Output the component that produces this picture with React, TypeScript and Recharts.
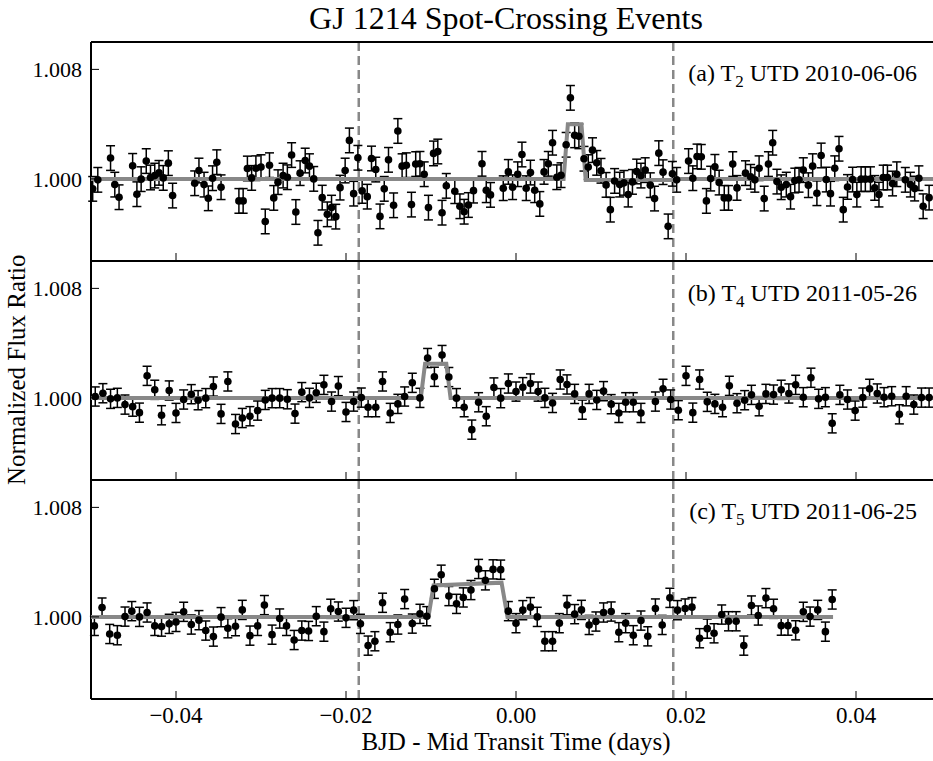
import React from "react";
import { ComposedChart, Scatter, ErrorBar, XAxis, YAxis, ReferenceLine } from "recharts";

// (a) T2 UTD 2010-06-06
const timeA = [
  -0.0498, -0.0492, -0.0477, -0.0472, -0.0467, -0.0451, -0.0446, -0.0441, -0.0435, -0.043,
  -0.0425, -0.042, -0.0415, -0.0409, -0.0404, -0.0378, -0.0373, -0.0367, -0.0362, -0.0357,
  -0.0352, -0.0347, -0.0326, -0.0321, -0.0316, -0.0311, -0.0306, -0.03, -0.0295, -0.029,
  -0.0285, -0.028, -0.0274, -0.0269, -0.0264, -0.0259, -0.0254, -0.0248, -0.0243, -0.0238,
  -0.0233, -0.0228, -0.0222, -0.0217, -0.0212, -0.0207, -0.0201, -0.0196, -0.0191, -0.0186,
  -0.0181, -0.0175, -0.017, -0.0165, -0.016, -0.0155, -0.015, -0.0144, -0.0139, -0.0134,
  -0.0129, -0.0123, -0.0118, -0.0113, -0.0108, -0.0103, -0.0097, -0.0092, -0.0087, -0.0082,
  -0.0072, -0.0066, -0.0061, -0.0056, -0.005, -0.004, -0.0035, -0.003,
  -0.0015, -0.0009, -0.0004, 0.0002, 0.0007, 0.0012, 0.0017, 0.0022, 0.0028, 0.0033,
  0.0038, 0.0043, 0.0048, 0.0053, 0.0059, 0.0064, 0.0069, 0.0074, 0.008, 0.0085,
  0.009, 0.0095, 0.01, 0.0106, 0.0111, 0.0116, 0.0122, 0.0127, 0.0132, 0.0137,
  0.0142, 0.0147, 0.0152, 0.0158, 0.0163, 0.0168, 0.0173, 0.0179, 0.0184, 0.0189,
  0.0203, 0.0208, 0.0213, 0.0218, 0.0224, 0.0229, 0.0234, 0.0239, 0.0245, 0.025,
  0.0255, 0.026, 0.027, 0.0276, 0.0281, 0.0286, 0.0292, 0.0297, 0.0302, 0.0307,
  0.0312, 0.0318, 0.0323, 0.0328, 0.0333, 0.0338, 0.0344, 0.0349, 0.0354, 0.0359,
  0.0365, 0.037, 0.0375, 0.038, 0.0385, 0.039, 0.0396, 0.0401, 0.0406, 0.0411,
  0.0417, 0.0422, 0.0427, 0.0432, 0.0437, 0.0443, 0.0448, 0.0458, 0.0464, 0.0469,
  0.0474, 0.0479, 0.0486,
];
const fluxA = [
  0.99927, 0.99993, 1.00152, 0.99958, 0.99866, 1.00095, 0.99888, 0.99998, 1.0013, 1.0001,
  1.00024, 1.00044, 1.00007, 1.00115, 0.99878, 0.99968, 1.00061, 0.99958, 0.99858, 1.00005,
  1.00122, 0.99939, 0.99839, 0.99839, 1.00076, 1.00007, 1.00078, 1.00086, 0.99689, 1.001,
  0.99861, 0.99976, 1.00024, 1.00012, 1.00174, 0.99758, 1.00042, 1.00134, 1.00093, 1.0,
  0.99606, 0.99863, 0.99741, 0.9979, 0.99724, 0.99936, 1.00061, 1.00281, 0.99892, 1.00154,
  0.99912, 0.9987, 1.00149, 1.00068, 0.99726, 0.99927, 1.00139, 0.99807, 1.0035, 1.00093,
  1.001, 0.99812, 1.00108, 1.0011, 1.00034, 0.9979, 1.00186, 1.002, 0.99753, 0.99949,
  0.9991, 0.998, 0.9976, 0.99809, 0.99914, 1.0011, 0.99917, 0.99883,
  0.99932, 1.00051, 0.99939, 1.00034, 1.00178, 0.99932, 1.00046, 0.99917, 0.99817, 1.00051,
  1.0011, 1.00264, 1.00012, 1.00027, 1.00249, 1.00592, 1.00318, 1.00311, 1.00147, 1.00086,
  1.0021, 1.00117, 1.00059, 0.99956, 0.99775, 0.99985, 0.99958, 0.99971, 0.99885, 0.99978,
  1.00054, 1.00024, 1.00064, 0.99954, 0.99856, 1.00188, 1.00049, 0.99653, 1.00037, 0.99993,
  1.0013, 1.00005, 1.00164, 1.00161, 0.99839, 1.00002, 1.00088, 0.99973, 0.99861, 0.99861,
  1.00108, 0.99934, 1.00042, 1.00015, 0.99993, 1.00078, 0.99856, 1.00108, 1.00264, 0.9998,
  0.99939, 0.99958, 0.9987, 0.99988, 0.99993, 1.00064, 0.99954, 1.00093, 0.99895, 1.00171,
  0.99995, 0.99892, 1.00078, 1.0022, 0.99775, 0.99941, 0.99995, 0.99885, 0.99998, 0.99998,
  0.99998, 0.99934, 0.99885, 1.0001, 1.0001, 0.99966, 1.00034, 0.99993, 0.99958, 0.99929,
  1.00005, 0.998, 0.99863,
];
const errA = 0.0009;
const modelTimeA = [-0.05, 0.0056, 0.0061, 0.0077, 0.0082, 0.0185, 0.019, 0.05];
const modelFluxA = [1.0, 1.0, 1.004, 1.004, 0.99992, 0.99992, 1.0, 1.0];

// (b) T4 UTD 2011-05-26
const timeB = [
  -0.0495, -0.0486, -0.0477, -0.0469, -0.046, -0.0451, -0.0443, -0.0434, -0.0425, -0.0417,
  -0.0408, -0.04, -0.0391, -0.0382, -0.0374, -0.0365, -0.0356, -0.0347, -0.0339, -0.033,
  -0.0322, -0.0313, -0.0304, -0.0295, -0.0287, -0.0278, -0.0269, -0.026, -0.0252, -0.0243,
  -0.0235, -0.0226, -0.0217, -0.0209, -0.02, -0.0191, -0.0182, -0.0174, -0.0165, -0.0157,
  -0.0148, -0.0139, -0.0131, -0.0122, -0.0113, -0.0104, -0.0096, -0.0087, -0.0079, -0.007,
  -0.0061, -0.0052, -0.0044, -0.0035, -0.0026,
  -0.0018, -0.0009, 0.0, 0.0008, 0.0017, 0.0026, 0.0034, 0.0043, 0.0052, 0.006,
  0.0069, 0.0078, 0.0086, 0.0095, 0.0103, 0.0112, 0.0121, 0.0129, 0.0138, 0.0147,
  0.0164, 0.0173, 0.0182, 0.0191, 0.02, 0.0208, 0.0216, 0.0225, 0.0234, 0.0243,
  0.0251, 0.026, 0.0269, 0.0277, 0.0286, 0.0294, 0.0303, 0.0312, 0.0321, 0.0329,
  0.0338, 0.0347, 0.0356, 0.0364, 0.0372, 0.0381, 0.039, 0.0399, 0.0408, 0.0416,
  0.0425, 0.0433, 0.0442, 0.0451, 0.0459, 0.0468, 0.0477, 0.0486,
];
const fluxB = [
  1.0001, 1.00034, 0.99993, 1.0, 0.99951, 0.99936, 0.99892, 1.00161, 1.00059, 0.99873,
  1.00054, 0.9989, 0.99988, 1.00027, 0.99983, 0.99998, 1.00083, 0.99883, 1.0012, 0.99809,
  0.99853, 0.99866, 0.99907, 0.99985, 0.99998, 0.99998, 0.9999, 0.99885, 1.00042, 1.0,
  1.00037, 1.00095, 0.99973, 1.00086, 0.99897, 0.99973, 1.00002, 0.99932, 0.99932, 1.0012,
  0.9989, 0.99956, 1.0001, 1.0011, 1.0, 1.00291, 1.00154, 1.00313, 1.00152, 0.99998,
  0.99932, 0.99768, 0.99968, 0.99866, 1.00076,
  0.99998, 1.00105, 1.00046, 1.00078, 1.00105, 1.00046, 1.0, 0.99963, 1.00134, 1.00098,
  1.00029, 0.99914, 1.00029, 0.99985, 1.00049, 0.99954, 0.9989, 0.99968, 0.99968, 0.9989,
  0.99973, 1.00066, 0.99988, 0.9991, 1.00161, 0.99892, 1.00134, 0.99971, 0.99956, 0.99932,
  1.00088, 0.99961, 0.99983, 1.00022, 0.99939, 1.00029, 1.00024, 1.00059, 1.00032, 1.00095,
  1.00005, 1.00147, 0.99993, 1.00005, 0.99814, 1.00022, 0.99988, 0.99907, 1.00002, 1.00066,
  1.00032, 1.00005, 1.00012, 0.9988, 1.00012, 0.99951, 1.00002, 1.00002,
];
const errB = 0.0007;
const modelTimeB = [-0.05, -0.0112, -0.0107, -0.0082, -0.0077, 0.05];
const modelFluxB = [1.0, 1.0, 1.0025, 1.0025, 1.0, 1.0];

// (c) T5 UTD 2011-06-25
const timeC = [
  -0.0496, -0.0487, -0.0478, -0.0469, -0.046, -0.0452, -0.0443, -0.0434, -0.0425, -0.0417,
  -0.0408, -0.04, -0.0391, -0.0382, -0.0373, -0.0365, -0.0356, -0.0347, -0.0339, -0.033,
  -0.0322, -0.0313, -0.0304, -0.0296, -0.0287, -0.0278, -0.027, -0.0261, -0.0252, -0.0244,
  -0.0235, -0.0226, -0.0218, -0.0209, -0.02, -0.0191, -0.0183, -0.0174, -0.0166, -0.0157,
  -0.0148, -0.0139, -0.0131, -0.0122, -0.0113, -0.0105, -0.0096, -0.0088, -0.0079, -0.007,
  -0.0062, -0.0053, -0.0044, -0.0036, -0.0027,
  -0.0018, -0.0009, 0.0, 0.0008, 0.0017, 0.0025, 0.0034, 0.0043, 0.0051, 0.006,
  0.0069, 0.0077, 0.0086, 0.0094, 0.0103, 0.0112, 0.0121, 0.0129, 0.0138, 0.0147,
  0.0155, 0.0164, 0.0172, 0.0181, 0.019, 0.0199, 0.0207, 0.0216, 0.0225, 0.0233,
  0.0242, 0.025, 0.0259, 0.0268, 0.0277, 0.0285, 0.0294, 0.0303, 0.0312, 0.032,
  0.0329, 0.0338, 0.0346, 0.0355, 0.0364, 0.0372,
];
const fluxC = [
  0.99934, 1.00068, 0.99875, 0.99866, 1.00002, 1.00042, 1.0, 1.00032, 0.99934, 0.99929,
  0.99949, 0.99963, 1.00037, 0.99944, 0.99976, 0.999, 0.99856, 0.99998, 0.99917, 0.99932,
  1.00051, 0.99863, 0.99934, 1.00086, 0.9987, 0.99988, 0.99934, 0.99831, 0.999, 0.99897,
  1.00005, 0.99892, 1.00059, 1.00039, 0.99993, 1.00049, 0.99949, 0.9979, 0.99822, 1.00103,
  0.99888, 0.99944, 1.0013, 0.99951, 1.00022, 1.00005, 1.00205, 1.00308, 1.00152, 1.00095,
  1.00142, 1.00196, 1.0035, 1.00267, 1.00347,
  1.00345, 1.00042, 0.99954, 1.00049, 1.00071, 1.0, 0.99822, 0.99822, 0.99954, 1.00086,
  1.0002, 1.00051, 0.99941, 0.99966, 1.00032, 1.00039, 0.99888, 0.99954, 0.99866, 0.99973,
  0.99858, 1.00061, 0.99941, 1.00139, 1.00049, 1.00061, 1.00071, 0.99844, 0.99914, 0.9988,
  1.00017, 0.99968, 0.99968, 0.9979, 1.00083, 1.0001, 1.00137, 1.00059, 0.99936, 0.99936,
  0.99902, 1.00037, 1.00002, 1.00051, 0.99892, 1.00127,
];
const errC = 0.0007;
const modelTimeC = [-0.05, -0.0103, -0.0097, -0.0017, -0.001, 0.0373];
const modelFluxC = [1.0, 1.0, 1.0023, 1.0025, 1.0, 1.0];

const xTicks = [-0.04, -0.02, 0.0, 0.02, 0.04];
const yTicks = [1.0, 1.008];
const transitEdges = [-0.0185, 0.0185];

const FONT = "'Liberation Serif', 'DejaVu Serif', serif";
const GREY = "#888888";

const toPoints = (t: number[], f: number[], err: number) =>
  t.map((x, i) => ({ t: x, f: f[i], err }));
const toLine = (t: number[], f: number[]) => t.map((x, i) => ({ t: x, f: f[i] }));

const fmtX = (v: number) =>
  v < 0 ? "\u2212" + Math.abs(v).toFixed(2) : v.toFixed(2);

// inward ticks, labels outside
const BottomTick = ({ x, y, payload, showLabel }: any) => (
  <g>
    <line x1={x} y1={y} x2={x} y2={y - 8} stroke="#000" strokeWidth={1} />
    {showLabel && (
      <text x={x} y={y + 24} textAnchor="middle" fontSize={23} fontFamily={FONT} fill="#000">
        {fmtX(payload.value)}
      </text>
    )}
  </g>
);
const TopTick = ({ x, y }: any) => (
  <line x1={x} y1={y} x2={x} y2={y + 8} stroke="#000" strokeWidth={1} />
);
const LeftTick = ({ x, y, payload }: any) => (
  <g>
    <line x1={x} y1={y} x2={x + 8} y2={y} stroke="#000" strokeWidth={1} />
    <text x={x - 9} y={y + 8} textAnchor="end" fontSize={22} fontFamily={FONT} fill="#000">
      {payload.value.toFixed(3)}
    </text>
  </g>
);
const RightTick = ({ x, y }: any) => (
  <line x1={x} y1={y} x2={x - 8} y2={y} stroke="#000" strokeWidth={1} />
);

const Dot = (p: any) => <circle cx={p.cx} cy={p.cy} r={3.8} fill="#000" />;
const NoDot = () => <g />;

const CHART_W = 945;
const PLOT_H = 219;

const Panel = ({ points, model, showXLabels, bottom }: any) => {
  const frame = { stroke: "#000", strokeWidth: 2 };
  return (
    <ComposedChart
      width={CHART_W}
      height={PLOT_H + 10 + bottom}
      margin={{ top: 9, right: 11, bottom: bottom - 1, left: 82 }}
    >
      <XAxis
        xAxisId="b"
        dataKey="t"
        type="number"
        domain={[-0.05, 0.05]}
        ticks={xTicks}
        interval={0}
        height={1}
        tickSize={0}
        tickMargin={0}
        tickLine={false}
        axisLine={frame}
        allowDataOverflow
        tick={(p: any) => <BottomTick {...p} showLabel={showXLabels} />}
      />
      <XAxis
        xAxisId="t"
        orientation="top"
        type="number"
        domain={[-0.05, 0.05]}
        ticks={xTicks}
        interval={0}
        height={1}
        tickSize={0}
        tickMargin={0}
        tickLine={false}
        axisLine={frame}
        allowDataOverflow
        tick={(p: any) => <TopTick {...p} />}
      />
      <YAxis
        yAxisId="l"
        dataKey="f"
        type="number"
        domain={[0.994, 1.01]}
        ticks={yTicks}
        interval={0}
        width={1}
        tickSize={0}
        tickMargin={0}
        tickLine={false}
        axisLine={frame}
        allowDataOverflow
        tick={(p: any) => <LeftTick {...p} />}
      />
      <YAxis
        yAxisId="r"
        orientation="right"
        type="number"
        domain={[0.994, 1.01]}
        ticks={yTicks}
        interval={0}
        width={1}
        tickSize={0}
        tickMargin={0}
        tickLine={false}
        axisLine={frame}
        allowDataOverflow
        tick={(p: any) => <RightTick {...p} />}
      />
      {transitEdges.map((e) => (
        <ReferenceLine
          key={e}
          xAxisId="b"
          yAxisId="l"
          x={e}
          stroke={GREY}
          strokeWidth={2.5}
          strokeDasharray="9 5"
        />
      ))}
      <Scatter
        xAxisId="b"
        yAxisId="l"
        data={model}
        line={{ stroke: GREY, strokeWidth: 4 }}
        shape={NoDot}
        isAnimationActive={false}
      />
      <Scatter xAxisId="b" yAxisId="l" data={points} shape={Dot} isAnimationActive={false}>
        <ErrorBar dataKey="err" direction="y" width={4.5} stroke="#000" strokeWidth={1.5} />
      </Scatter>
    </ComposedChart>
  );
};

const Note = ({ top, tag, sub, date }: any) => (
  <div
    style={{
      position: "absolute",
      right: 16,
      top: top - 14,
      whiteSpace: "nowrap",
      fontFamily: FONT,
      fontSize: 24,
      lineHeight: "28px",
    }}
  >
    ({tag}) T<sub style={{ fontSize: 17 }}>{sub}</sub> UTD {date}
  </div>
);

export default function App() {
  return (
    <div
      style={{
        position: "relative",
        width: 933,
        height: 761,
        overflow: "hidden",
        fontFamily: FONT,
        background: "#fff",
      }}
    >
      <style>{"html, body { margin: 0; padding: 0; overflow: hidden; }"}</style>
      <div style={{ position: "absolute", left: 8, top: 32 }}>
        <Panel points={toPoints(timeA, fluxA, errA)} model={toLine(modelTimeA, modelFluxA)} bottom={10} />
      </div>
      <div style={{ position: "absolute", left: 8, top: 251 }}>
        <Panel points={toPoints(timeB, fluxB, errB)} model={toLine(modelTimeB, modelFluxB)} bottom={10} />
      </div>
      <div style={{ position: "absolute", left: 8, top: 470 }}>
        <Panel
          points={toPoints(timeC, fluxC, errC)}
          model={toLine(modelTimeC, modelFluxC)}
          bottom={40}
          showXLabels
        />
      </div>
      <div
        style={{
          position: "absolute",
          left: 0,
          width: 1012,
          top: 0,
          textAlign: "center",
          whiteSpace: "nowrap",
          fontSize: 32,
          lineHeight: "36px",
        }}
      >
        GJ 1214 Spot-Crossing Events
      </div>
      <Note top={73} tag="a" sub="2" date="2010-06-06" />
      <Note top={293} tag="b" sub="4" date="2011-05-26" />
      <Note top={511} tag="c" sub="5" date="2011-06-25" />
      <div
        style={{
          position: "absolute",
          left: 4,
          top: 244,
          height: 252,
          width: 26,
          textAlign: "center",
          transform: "rotate(180deg)",
          writingMode: "vertical-rl",
          whiteSpace: "nowrap",
          fontSize: 25,
          lineHeight: "26px",
        }}
      >
        Normalized Flux Ratio
      </div>
      <div
        style={{
          position: "absolute",
          left: 0,
          width: 1032,
          top: 728,
          textAlign: "center",
          whiteSpace: "nowrap",
          fontSize: 25,
          lineHeight: "28px",
        }}
      >
        BJD - Mid Transit Time (days)
      </div>
    </div>
  );
}
